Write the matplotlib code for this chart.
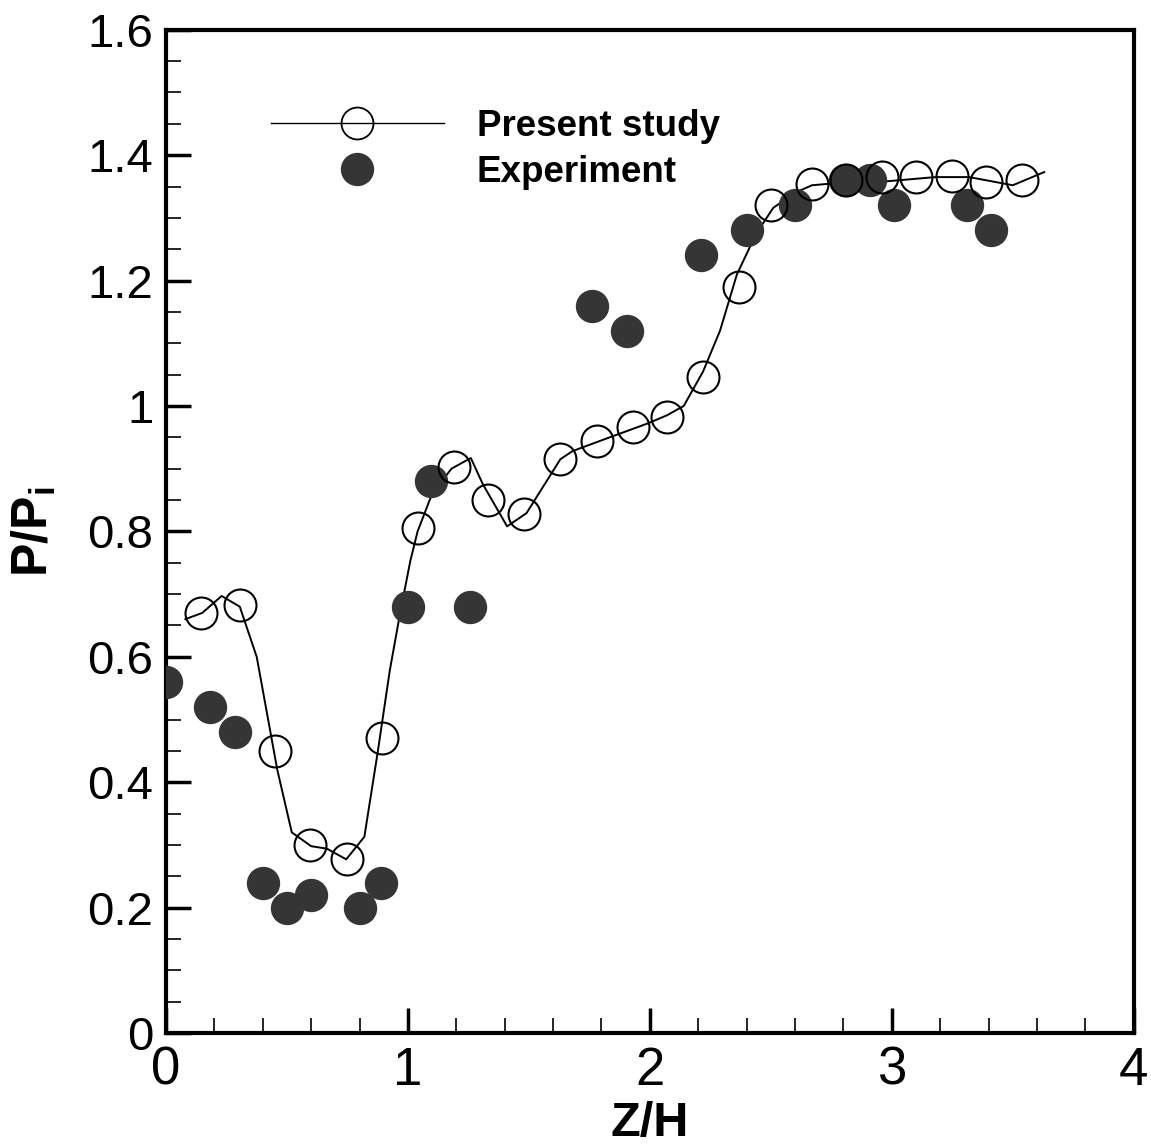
import numpy as np
import matplotlib.pyplot as plt
from matplotlib.lines import Line2D
from matplotlib.ticker import MultipleLocator

plt.rcParams['font.family'] = ['Liberation Sans', 'DejaVu Sans']
plt.rcParams['mathtext.fontset'] = 'custom'
plt.rcParams['mathtext.bf'] = 'Liberation Sans:bold'
plt.rcParams['mathtext.rm'] = 'Liberation Sans'

# Present study: computed curve
line_z = [0.08, 0.15, 0.23, 0.305, 0.375, 0.46, 0.52, 0.60, 0.665, 0.745, 0.82,
          0.876, 0.925, 0.967, 1.01, 1.04, 1.10, 1.18, 1.26, 1.31, 1.41, 1.49,
          1.63, 1.68, 1.82, 1.99, 2.07, 2.14, 2.22, 2.29, 2.36, 2.44, 2.51,
          2.60, 2.67, 2.76, 2.94, 3.18, 3.32, 3.50, 3.63]
line_p = [0.66, 0.67, 0.697, 0.68, 0.60, 0.42, 0.32, 0.298, 0.294, 0.277, 0.313,
          0.45, 0.578, 0.668, 0.753, 0.80, 0.86, 0.90, 0.917, 0.875, 0.808, 0.829,
          0.915, 0.928, 0.948, 0.972, 0.985, 1.0, 1.055, 1.12, 1.21, 1.275, 1.316,
          1.34, 1.352, 1.355, 1.357, 1.365, 1.365, 1.352, 1.373]

# Present study: marked points
sim_z = [0.145, 0.306, 0.45, 0.595, 0.748, 0.893, 1.04, 1.19, 1.33, 1.48, 1.63,
         1.78, 1.93, 2.07, 2.22, 2.37, 2.50, 2.67, 2.81, 2.96, 3.10, 3.25, 3.39, 3.54]
sim_p = [0.67, 0.683, 0.45, 0.30, 0.277, 0.471, 0.805, 0.902, 0.85, 0.827, 0.915,
         0.944, 0.967, 0.983, 1.047, 1.19, 1.32, 1.354, 1.36, 1.365, 1.365, 1.367,
         1.357, 1.36]

# Experiment
exp_z = [0.0, 0.18, 0.285, 0.40, 0.50, 0.60, 0.80, 0.89, 1.0, 1.095, 1.256,
         1.76, 1.905, 2.21, 2.40, 2.60, 2.806, 2.91, 3.01, 3.31, 3.41]
exp_p = [0.56, 0.52, 0.48, 0.24, 0.20, 0.22, 0.20, 0.24, 0.68, 0.88, 0.68,
         1.16, 1.12, 1.24, 1.28, 1.32, 1.36, 1.36, 1.32, 1.32, 1.28]

fig = plt.figure(figsize=(11.51, 11.44), dpi=100)
ax = fig.add_axes([0.1442, 0.097, 0.8408, 0.877])

ax.plot(line_z, line_p, color='black', lw=1.4, zorder=2)
ax.plot(exp_z, exp_p, 'o', ms=23, mfc='#353535', mec='#353535', zorder=3)
ax.plot(sim_z, sim_p, 'o', ms=23, mfc='none', mec='black', mew=1.5, zorder=4)

ax.set_xlim(0, 4)
ax.set_ylim(0, 1.6)
ax.xaxis.set_major_locator(MultipleLocator(1))
ax.xaxis.set_minor_locator(MultipleLocator(0.2))
ax.yaxis.set_major_locator(MultipleLocator(0.2))
ax.yaxis.set_minor_locator(MultipleLocator(0.05))
ax.yaxis.set_major_formatter(plt.FuncFormatter(lambda v, p: f"{v:g}"))

for s in ax.spines.values():
    s.set_linewidth(3)
ax.tick_params(which='both', direction='in', top=False, right=False)
ax.tick_params(which='major', length=18, width=2.5)
ax.tick_params(which='minor', length=11, width=1.2)
ax.tick_params(axis='y', labelsize=34, pad=9)
ax.tick_params(axis='x', labelsize=38, pad=9)

ax.set_xlabel('Z/H', fontsize=35, fontweight='bold', labelpad=4)
ax.set_ylabel(r'$\mathbf{P/P_i}$', fontsize=36)
ax.yaxis.set_label_coords(-0.112, 0.50)

handles = [Line2D([], [], color='black', lw=1.0, marker='o', ms=23, mfc='none', mec='black', mew=1.3),
           Line2D([], [], ls='none', marker='o', ms=23, mfc='#353535', mec='#353535')]
ax.legend(handles, ['Present study', 'Experiment'], loc='upper left',
          bbox_to_anchor=(0.074, 0.954), frameon=False, handlelength=4.7,
          handletextpad=0.9, labelspacing=0.3,
          prop={'size': 26.5, 'weight': 'bold'})

fig.savefig('out.png', dpi=100)
